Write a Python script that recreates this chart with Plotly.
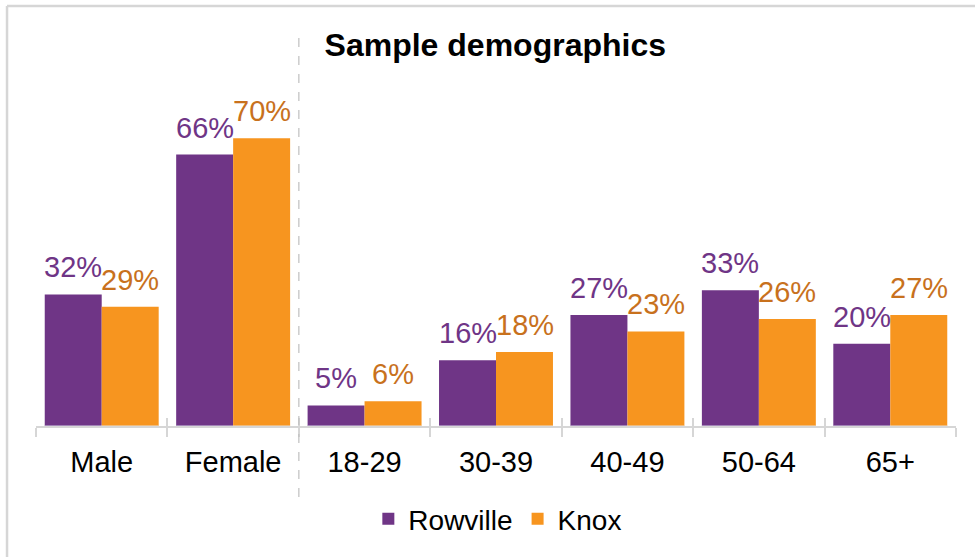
import plotly.graph_objects as go

categories = ["Male", "Female", "18-29", "30-39", "40-49", "50-64", "65+"]
rowville = [32, 66, 5, 16, 27, 33, 20]
knox = [29, 70, 6, 18, 23, 26, 27]
series_names = ["Rowville", "Knox"]
title_text = "Sample demographics"

PURPLE = "#6F3586"
ORANGE = "#F7951F"
PURPLE_TXT = "#6F3586"
ORANGE_TXT = "#C8711D"
FONT = "Liberation Sans, Arial, sans-serif"
BORDER = "#D6D6D6"

fig = go.Figure()
fig.add_trace(go.Bar(
    x=categories, y=rowville, name=series_names[0],
    marker=dict(color=PURPLE, line=dict(width=0)),
))
fig.add_trace(go.Bar(
    x=categories, y=knox, name=series_names[1],
    marker=dict(color=ORANGE, line=dict(width=0)),
))
# invisible trace on overlay axis to draw upward tick marks
fig.add_trace(go.Bar(x=categories, y=[0]*len(categories), xaxis="x2",
                     showlegend=False, hoverinfo="skip", marker=dict(color="rgba(0,0,0,0)")))

# value labels above bars (offset by half a bar width within each group)
annotations = []
for vals, shift, col in ((rowville, -28.5, PURPLE_TXT), (knox, 28.5, ORANGE_TXT)):
    for c, v in zip(categories, vals):
        annotations.append(dict(
            x=c, y=v, xref="x", yref="y", text=f"{v}%", showarrow=False,
            xanchor="center", yanchor="bottom", xshift=shift, yshift=9,
            font=dict(size=29, color=col, family=FONT),
        ))

fig.update_layout(
    width=975, height=557,
    margin=dict(l=36, r=19, t=97, b=131),
    paper_bgcolor="white", plot_bgcolor="white",
    barmode="group", bargap=0.133, bargroupgap=0,
    font=dict(family=FONT, color="#000000"),
    title=dict(text=f"<b>{title_text}</b>", x=0.508, xanchor="center",
               y=0.919, yanchor="middle", font=dict(size=32, color="#000000", family=FONT)),
    xaxis=dict(
        type="category", showline=True, linecolor=BORDER, linewidth=2,
        ticks="outside", tickson="boundaries", ticklen=9, tickcolor=BORDER, tickwidth=2,
        ticklabelstandoff=9,
        tickfont=dict(size=29, color="#000000", family=FONT), showgrid=False, zeroline=False,
        range=[-0.5, 6.5],
    ),
    xaxis2=dict(
        type="category", overlaying="x", matches="x", side="bottom",
        ticks="inside", tickson="boundaries", ticklen=8, tickcolor=BORDER, tickwidth=2,
        showticklabels=False, showline=False, showgrid=False, zeroline=False,
    ),
    yaxis=dict(range=[0, 80], visible=False, showgrid=False, zeroline=False),
    legend=dict(orientation="h", x=0.502, xanchor="center", y=-0.283, yanchor="middle",
                font=dict(size=28, color="#000000", family=FONT), itemwidth=30),
    annotations=annotations,
    shapes=[
        dict(type="line", xref="x", yref="paper", x0=1.5, x1=1.5, y0=-0.216, y1=1.179,
             line=dict(color="#BFBFBF", width=1.2, dash="dash")),
        dict(type="line", xref="paper", yref="paper", x0=-0.0315, x1=-0.0315, y0=1.2766, y1=-0.5,
             line=dict(color=BORDER, width=2.5)),
        dict(type="line", xref="paper", yref="paper", x0=-0.0315, x1=1.05, y0=1.2766, y1=1.2766,
             line=dict(color=BORDER, width=2.5)),
    ],
)

fig.write_html("out.html", config={"displayModeBar": False},
               post_script="document.body.style.margin='0';")
